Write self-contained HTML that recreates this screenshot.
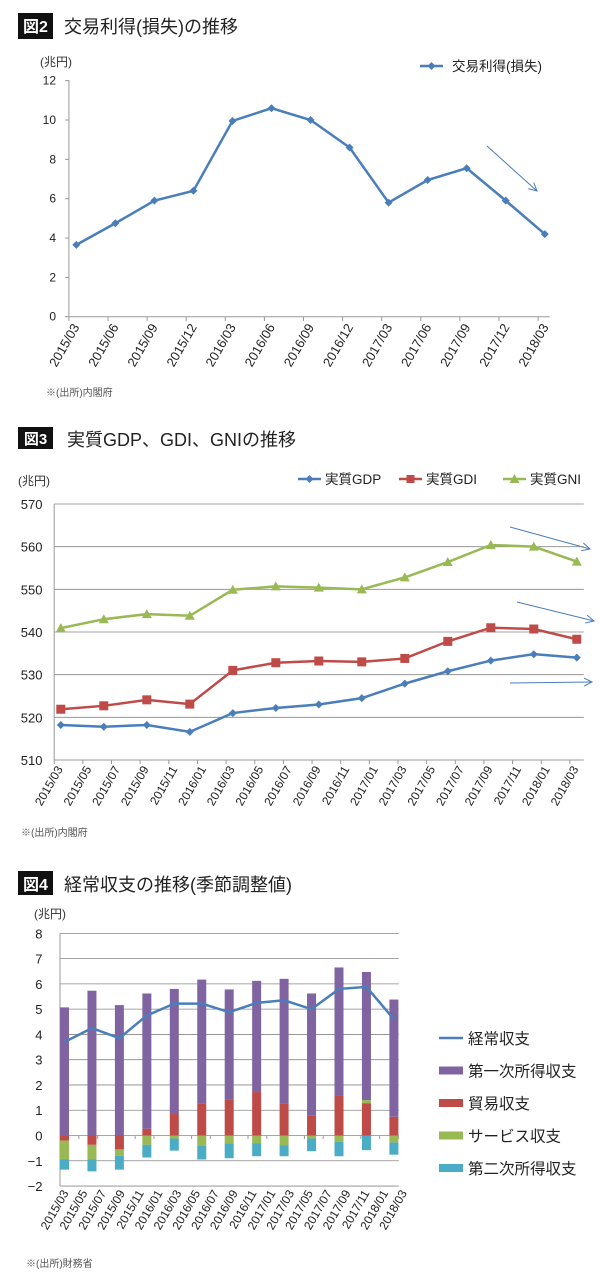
<!DOCTYPE html>
<html><head><meta charset="utf-8"><style>
html,body{margin:0;padding:0;background:#fff;}
svg{display:block;font-family:"Liberation Sans","Noto Sans CJK JP",sans-serif;}
</style></head><body>
<svg id="s" width="600" height="1283" viewBox="0 0 600 1283" xmlns="http://www.w3.org/2000/svg">
<defs><marker id="ah" markerWidth="10" markerHeight="10" refX="9" refY="5" orient="auto" markerUnits="userSpaceOnUse"><path d="M1,1 L9,5 L1,9" fill="none" stroke="#4a7ebb" stroke-width="1"/></marker></defs>
<g>
<rect x="18" y="13" width="35" height="26" fill="#111"/>
<text x="35.5" y="32" fill="#fff" font-size="16" font-weight="bold" text-anchor="middle">図2</text>
<text x="64" y="33" font-size="18" fill="#222">交易利得(損失)の推移</text></g>
<g>
<rect x="18" y="427" width="35" height="22" fill="#111"/>
<text x="35.5" y="444" fill="#fff" font-size="15" font-weight="bold" text-anchor="middle">図3</text>
<text x="67" y="446" font-size="18" fill="#222">実質GDP、GDI、GNIの推移</text></g>
<g>
<rect x="18" y="871" width="35" height="24" fill="#111"/>
<text x="35.5" y="890" fill="#fff" font-size="16" font-weight="bold" text-anchor="middle">図4</text>
<text x="64" y="891" font-size="18" fill="#222">経常収支の推移(季節調整値)</text></g>
<text x="40" y="66" font-size="12" fill="#333">(兆円)</text>
<text x="46" y="396" font-size="10" fill="#555">※(出所)内閣府</text>
<text x="18" y="485" font-size="12" fill="#333">(兆円)</text>
<text x="21" y="836" font-size="10" fill="#555">※(出所)内閣府</text>
<text x="34" y="918" font-size="12" fill="#333">(兆円)</text>
<text x="26" y="1267" font-size="10" fill="#555">※(出所)財務省</text>
<line x1="487" y1="146" x2="537" y2="191" stroke="#4a7ebb" stroke-width="1" marker-end="url(#ah)"/>
<line x1="510" y1="527" x2="590" y2="549" stroke="#4a7ebb" stroke-width="1" marker-end="url(#ah)"/>
<line x1="517" y1="602" x2="594" y2="621" stroke="#4a7ebb" stroke-width="1" marker-end="url(#ah)"/>
<line x1="510" y1="683" x2="592" y2="682" stroke="#4a7ebb" stroke-width="1" marker-end="url(#ah)"/>
</svg>
<script>
const c1Cats=["2015/03","2015/06","2015/09","2015/12","2016/03","2016/06","2016/09","2016/12","2017/03","2017/06","2017/09","2017/12","2018/03"];
const c1Vals=[3.65,4.75,5.9,6.4,9.95,10.6,10.0,8.6,5.8,6.95,7.55,5.9,4.2];
const c1Ticks=[0,2,4,6,8,10,12];
const c2Cats=["2015/03","2015/06","2015/09","2015/12","2016/03","2016/06","2016/09","2016/12","2017/03","2017/06","2017/09","2017/12","2018/03"];
const c2Labels=["2015/03","2015/05","2015/07","2015/09","2015/11","2016/01","2016/03","2016/05","2016/07","2016/09","2016/11","2017/01","2017/03","2017/05","2017/07","2017/09","2017/11","2018/01","2018/03"];
const gdp=[518.2,517.8,518.2,516.6,521.0,522.2,523.0,524.5,527.9,530.8,533.3,534.8,534.0];
const gdi=[521.9,522.7,524.1,523.1,531.0,532.8,533.2,533.0,533.8,537.8,541.0,540.7,538.3];
const gni=[540.9,543.0,544.2,543.8,549.9,550.7,550.4,550.0,552.8,556.4,560.4,560.0,556.5];
const c2Ticks=[510,520,530,540,550,560,570];
const c3Labels=c2Labels;
const trade=[-0.2,-0.37,-0.55,0.27,0.85,1.25,1.42,1.72,1.25,0.8,1.58,1.28,0.74];
const services=[-0.75,-0.58,-0.25,-0.37,-0.12,-0.4,-0.32,-0.3,-0.38,-0.12,-0.25,0.12,-0.28];
const primary=[5.07,5.73,5.16,5.35,4.95,4.92,4.36,4.4,4.95,4.82,5.07,5.07,4.64];
const secondary=[-0.4,-0.47,-0.55,-0.5,-0.48,-0.55,-0.58,-0.52,-0.44,-0.5,-0.57,-0.58,-0.48];
const current=[3.7,4.25,3.85,4.75,5.22,5.22,4.88,5.25,5.35,5.0,5.8,5.88,4.6];
const c3Ticks=[-2,-1,0,1,2,3,4,5,6,7,8];

const S=document.getElementById('s');const NS='http://www.w3.org/2000/svg';
function mk(tag,at,txt){const e=document.createElementNS(NS,tag);for(const k in at)e.setAttribute(k,at[k]);if(txt!=null)e.textContent=txt;S.appendChild(e);return e;}
function diamond(x,y,r,c){return mk('path',{d:`M${x},${y-r}L${x+r},${y}L${x},${y+r}L${x-r},${y}Z`,fill:c});}

const y1=v=>316.7-v*19.67, x1=i=>76.3+i*39.04;
let e;
e=mk('line',{x1:68.9,y1:80,x2:68.9,y2:316.7,stroke:'#999'});


e=mk('line',{x1:68.9,y1:316.7,x2:549.7,y2:316.7,stroke:'#999'});


c1Ticks.forEach(t=>{mk('line',{x1:65,y1:y1(t),x2:68.9,y2:y1(t),stroke:'#999'});
 e=mk('text',{x:56,y:y1(t)+4,'font-size':12,'text-anchor':'end',fill:'#222'},t);
 
 });
c1Cats.forEach((c,i)=>{const tx=68.9+i*39.1;mk('line',{x1:tx,y1:316.7,x2:tx,y2:321,stroke:'#999'});
 e=mk('text',{x:tx+11,y:327,'font-size':13,'text-anchor':'end',fill:'#222',transform:`rotate(-60 ${tx+11} 327)`},c);
 
 });
e=mk('polyline',{points:c1Vals.map((v,i)=>x1(i)+','+y1(v)).join(' '),fill:'none',stroke:'#4a7ebb','stroke-width':2.5});


c1Vals.forEach((v,i)=>{e=diamond(x1(i),y1(v),4,'#4a7ebb');
 
 });
mk('line',{x1:420,y1:66,x2:443,y2:66,stroke:'#4a7ebb','stroke-width':2.5});diamond(431.5,66,4,'#4a7ebb');
e=mk('text',{x:452,y:71,'font-size':13.5,fill:'#222'},'交易利得(損失)');



const x2=i=>60.8+i*43;
function yy2(v){return 504+(570-v)*4.2667;}
c2Ticks.forEach(t=>{e=mk('line',{x1:54.2,y1:yy2(t),x2:583.8,y2:yy2(t),stroke:t===510?'#999':'#888','stroke-width':t===510?1:0.8});
 
 
 e=mk('text',{x:42.5,y:yy2(t)+5,'font-size':13,'text-anchor':'end',fill:'#222'},t);
 
 });
e=mk('line',{x1:54.2,y1:504,x2:54.2,y2:760,stroke:'#999'});


c2Labels.forEach((c,i)=>{const tx=54.2+i*28.65;mk('line',{x1:tx,y1:760,x2:tx,y2:764,stroke:'#999'});
 e=mk('text',{x:tx+9,y:769,'font-size':12,'text-anchor':'end',fill:'#222',transform:`rotate(-60 ${tx+9} 769)`},c);
 
 });
function series2(arr,col,name,shape){e=mk('polyline',{points:arr.map((v,i)=>x2(i)+','+yy2(v)).join(' '),fill:'none',stroke:col,'stroke-width':2.5});
 
 
 arr.forEach((v,i)=>{const x=x2(i),y=yy2(v);let m;
  if(shape==='d')m=diamond(x,y,4,col);
  else if(shape==='s')m=mk('rect',{x:x-4.5,y:y-4.5,width:9,height:9,fill:col});
  else m=mk('path',{d:`M${x},${y-5}L${x+5},${y+4}L${x-5},${y+4}Z`,fill:col});
  
  });}
series2(gni,'#98b954','gni','t');series2(gdi,'#be4b48','gdi','s');series2(gdp,'#4a7ebb','gdp','d');
[[298,'#4a7ebb','実質GDP','d'],[399,'#be4b48','実質GDI','s'],[503,'#98b954','実質GNI','t']].forEach(([lx,col,t,sh])=>{
 mk('line',{x1:lx,y1:479,x2:lx+23,y2:479,stroke:col,'stroke-width':2.5});const cx=lx+11.5;
 if(sh==='d')diamond(cx,479,4,col);else if(sh==='s')mk('rect',{x:cx-4,y:475,width:8,height:8,fill:col});else mk('path',{d:`M${cx},474L${cx+5},483L${cx-5},483Z`,fill:col});
 e=mk('text',{x:lx+27,y:484,'font-size':13.5,fill:'#222'},t);
 
 });

const y3=v=>1135.5-v*25.27, x3=i=>64.5+i*27.45;
c3Ticks.forEach(t=>{e=mk('line',{x1:60,y1:y3(t),x2:398.8,y2:y3(t),stroke:'#888','stroke-width':0.8});
 
 
 e=mk('text',{x:42.5,y:y3(t)+5,'font-size':13,'text-anchor':'end',fill:'#222'},t<0?'−'+(-t):t);
 
 });
e=mk('line',{x1:60,y1:y3(8),x2:60,y2:y3(-2),stroke:'#999'});


c3Labels.forEach((c,i)=>{const tx=60+i*18.8;mk('line',{x1:tx,y1:1135.5,x2:tx,y2:1139,stroke:'#999'});
 e=mk('text',{x:tx+9,y:1193,'font-size':12,'text-anchor':'end',fill:'#222',transform:`rotate(-60 ${tx+9} 1193)`},c);
 
 });
const stack=[[trade,'#be4b48','trade-bar'],[services,'#98b954','services-bar'],[primary,'#8064a2','primary-income-bar'],[secondary,'#4bacc6','secondary-income-bar']];
trade.forEach((_,i)=>{let pos=0,neg=0;stack.forEach(([arr,col,nm])=>{const v=arr[i];let a,b;
 if(v>=0){a=pos;b=pos+v;pos=b;}else{a=neg;b=neg+v;neg=b;}
 const r=mk('rect',{x:x3(i)-4.5,y:y3(Math.max(a,b)),width:9,height:Math.abs(y3(a)-y3(b)),fill:col});
 
 });});
e=mk('polyline',{points:current.map((v,i)=>x3(i)+','+y3(v)).join(' '),fill:'none',stroke:'#4a7ebb','stroke-width':2.5});


[['経常収支','#4a7ebb','l'],['第一次所得収支','#8064a2','r'],['貿易収支','#be4b48','r'],['サービス収支','#98b954','r'],['第二次所得収支','#4bacc6','r']].forEach(([t,col,k],j)=>{
 const ly=1038+j*32.5;
 if(k==='l')mk('line',{x1:439,y1:ly,x2:463,y2:ly,stroke:col,'stroke-width':2.5});else mk('rect',{x:439,y:ly-4,width:24,height:8,fill:col});
 e=mk('text',{x:468,y:ly+6,'font-size':15.5,fill:'#222'},t);
 
 });
</script>
</body></html>
